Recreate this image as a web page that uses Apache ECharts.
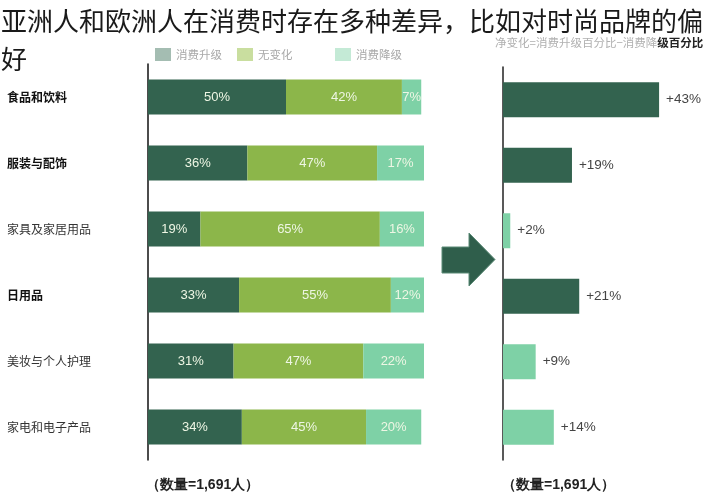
<!DOCTYPE html>
<html>
<head>
<meta charset="utf-8">
<script src="https://cdn.jsdelivr.net/npm/echarts@6/dist/echarts.min.js"></script>
<style>html,body{margin:0;padding:0;background:#fff}#c{width:707px;height:500px}</style>
</head>
<body>
<div id="c"></div>
<script>
// ---- data ----
var categories = ['食品和饮料', '服装与配饰', '家具及家居用品', '日用品', '美妆与个人护理', '家电和电子产品'];
var upgradeValues = [50, 36, 19, 33, 31, 34];
var noChangeValues = [42, 47, 65, 55, 47, 45];
var downgradeValues = [7, 17, 16, 12, 22, 20];
var netValues = [43, 19, 2, 21, 9, 14];
var seriesNames = ['消费升级', '无变化', '消费降级'];
var sampleNote = '（数量=1,691人）';

// ---- styles ----
var C_DARK = '#33634f', C_MID = '#8cb64a', C_LIGHT = '#7ed1a6';
var FONT = '"Liberation Sans", "Noto Sans CJK SC", sans-serif';
var CJK = '"Noto Sans CJK SC", sans-serif';
var strongThreshold = 15;

var chart = echarts.init(document.getElementById('c'), null, {renderer: 'canvas'});

function segLabel() {
  return {show: true, position: 'inside', formatter: '{c}%', color: '#eef6e4', fontSize: 13, fontFamily: FONT};
}

var netData = netValues.map(function (v) {
  return {value: v, itemStyle: {color: v >= strongThreshold ? C_DARK : C_LIGHT}};
});

var option = {
  backgroundColor: '#ffffff',
  animation: false,
  title: {
    text: '亚洲人和欧洲人在消费时存在多种差异，比如对时尚品牌的偏\n好',
    left: 1, top: 2, padding: 0,
    textStyle: {fontSize: 26, fontWeight: 'normal', color: '#1a1a1a', lineHeight: 38, fontFamily: CJK}
  },
  legend: [
    {data: [{name: seriesNames[0], itemStyle: {color: '#a4bdb2'}}], left: 155, top: 48, icon: 'rect', itemWidth: 16, itemHeight: 13, itemGap: 5, padding: 0,
     textStyle: {color: '#a8a8a8', fontSize: 11.5, fontFamily: CJK}, selectedMode: false},
    {data: [{name: seriesNames[1], itemStyle: {color: '#c9de9f'}}], left: 237, top: 48, icon: 'rect', itemWidth: 16, itemHeight: 13, padding: 0,
     textStyle: {color: '#a8a8a8', fontSize: 11.5, fontFamily: CJK}, selectedMode: false},
    {data: [{name: seriesNames[2], itemStyle: {color: '#c4ead6'}}], left: 335, top: 48, icon: 'rect', itemWidth: 16, itemHeight: 13, padding: 0,
     textStyle: {color: '#a8a8a8', fontSize: 11.5, fontFamily: CJK}, selectedMode: false}
  ],
  grid: [
    {left: 148, width: 276, top: 64, height: 396, containLabel: false},
    {left: 503, width: 181.5, top: 67, height: 393, containLabel: false}
  ],
  xAxis: [
    {gridIndex: 0, type: 'value', min: 0, max: 100, show: false},
    {gridIndex: 1, type: 'value', min: 0, max: 50, show: false}
  ],
  yAxis: [
    {gridIndex: 0, type: 'category', data: categories, inverse: true,
     axisLine: {show: true, lineStyle: {color: '#111', width: 1.5}}, axisTick: {show: false}, splitLine: {show: false},
     axisLabel: {align: 'left', margin: 141, fontSize: 12, fontFamily: CJK,
       formatter: function (v, i) { return netValues[i] >= strongThreshold ? '{b|' + v + '}' : '{n|' + v + '}'; },
       rich: {b: {fontWeight: 'bold', color: '#111', fontSize: 12, fontFamily: CJK}, n: {color: '#333', fontSize: 12, fontFamily: CJK}}}},
    {gridIndex: 1, type: 'category', data: categories, inverse: true,
     axisLine: {show: true, lineStyle: {color: '#222', width: 1.5}}, axisTick: {show: false}, axisLabel: {show: false}, splitLine: {show: false}}
  ],
  series: [
    {name: seriesNames[0], type: 'bar', stack: 'a', xAxisIndex: 0, yAxisIndex: 0, data: upgradeValues, barWidth: 35,
     itemStyle: {color: C_DARK}, label: segLabel()},
    {name: seriesNames[1], type: 'bar', stack: 'a', xAxisIndex: 0, yAxisIndex: 0, data: noChangeValues, barWidth: 35,
     itemStyle: {color: C_MID}, label: segLabel()},
    {name: seriesNames[2], type: 'bar', stack: 'a', xAxisIndex: 0, yAxisIndex: 0, data: downgradeValues, barWidth: 35,
     itemStyle: {color: C_LIGHT}, label: segLabel()},
    {name: '净变化', type: 'bar', xAxisIndex: 1, yAxisIndex: 1, data: netData, barWidth: 35,
     label: {show: true, position: 'right', distance: 7, formatter: '+{c}%', color: '#444', fontSize: 13.5, fontFamily: FONT}}
  ],
  graphic: [
    {type: 'polygon', shape: {points: [[442, 247], [469, 247], [469, 233], [495, 259.5], [469, 286], [469, 273], [442, 273]]},
     style: {fill: '#2f5e4b', stroke: '#5b8a76', lineWidth: 1}},
    {type: 'text', left: 495, top: 37, style: {
      text: '{g|净变化=消费升级百分比−消费降}{k|级百分比}',
      rich: {g: {fill: '#b0b0b0', fontSize: 11.5, fontFamily: CJK}, k: {fill: '#222', fontSize: 11.5, fontWeight: 'bold', fontFamily: CJK}}}},
    {type: 'text', left: 146, top: 478, style: {text: sampleNote, fill: '#222', fontSize: 14, fontWeight: 'bold', font: 'bold 14px ' + CJK}},
    {type: 'text', left: 502, top: 478, style: {text: sampleNote, fill: '#222', fontSize: 14, fontWeight: 'bold', font: 'bold 14px ' + CJK}}
  ]
};
chart.setOption(option);
</script>
</body>
</html>
